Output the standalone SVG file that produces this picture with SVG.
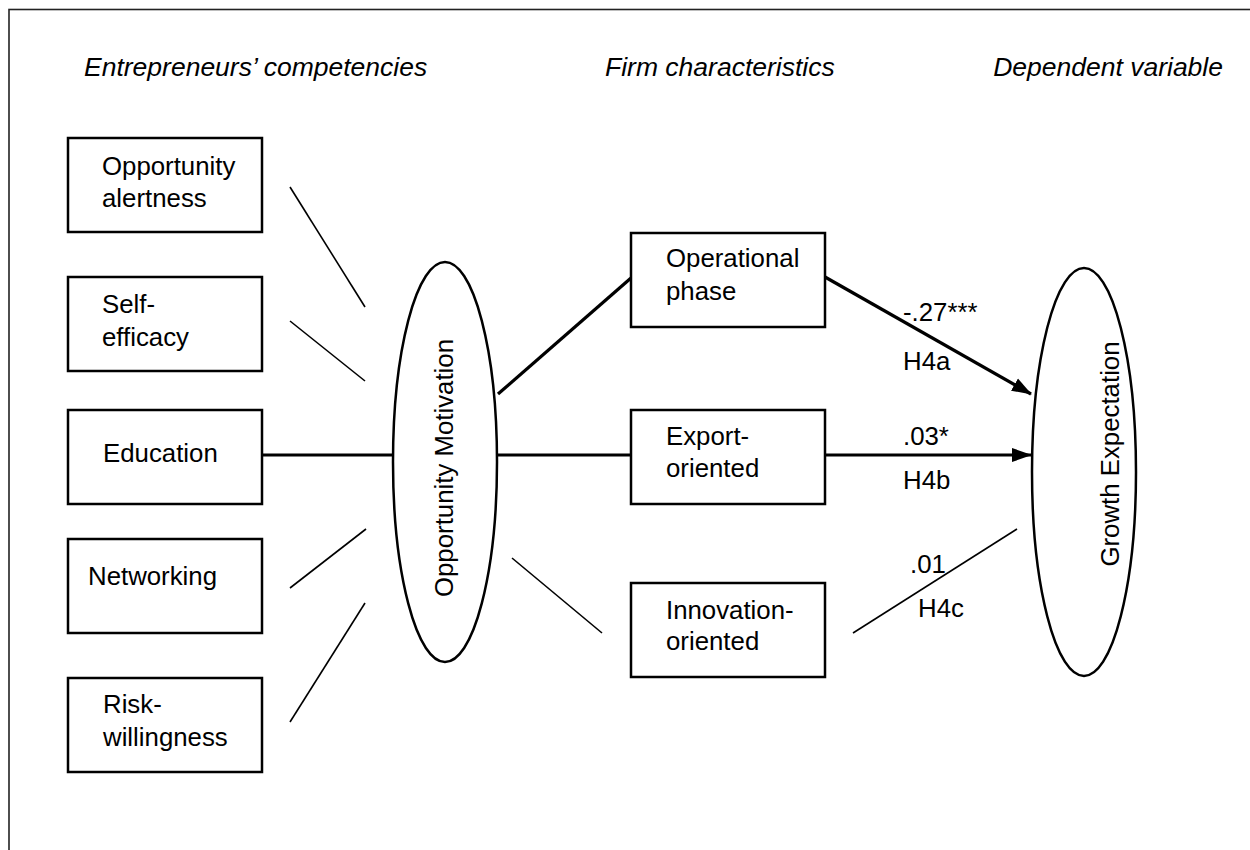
<svg xmlns="http://www.w3.org/2000/svg" width="1250" height="850" viewBox="0 0 1250 850">
<style>
text{font-family:"Liberation Sans",Arial,sans-serif;font-size:25.8px;fill:#000}
.hdr{font-style:italic;font-size:26.5px}
.box{fill:#fff;stroke:#000;stroke-width:2.5}
.ell{fill:#fff;stroke:#000;stroke-width:2.5}
.thin{stroke:#000;stroke-width:1.6;fill:none}
.thick{stroke:#000;stroke-width:3.2;fill:none}
</style>
<defs>
<marker id="arr" markerUnits="userSpaceOnUse" markerWidth="20" markerHeight="16" viewBox="0 0 20 16" refX="19" refY="8" orient="auto">
<path d="M0,1 L20,8 L0,15 Z" fill="#000"/>
</marker>
</defs>
<rect x="0" y="0" width="1250" height="850" fill="#fff"/>
<rect x="9" y="9.5" width="1300" height="900" fill="none" stroke="#222" stroke-width="1.6"/>
<g id="headers">
<text class="hdr" x="84" y="76">Entrepreneurs’ competencies</text>
<text class="hdr" x="605" y="76">Firm characteristics</text>
<text class="hdr" x="1223" y="76" text-anchor="end">Dependent variable</text>
</g>
<g id="connectors">
<line class="thin" x1="290" y1="187" x2="365" y2="307"/>
<line class="thin" x1="290" y1="321" x2="365" y2="381"/>
<line class="thick" x1="262" y1="455" x2="393" y2="455"/>
<line class="thin" x1="290" y1="588" x2="366" y2="529"/>
<line class="thin" x1="290" y1="722" x2="365" y2="603"/>
<line class="thick" x1="498" y1="394" x2="631" y2="278"/>
<line class="thick" x1="497" y1="455" x2="631" y2="455"/>
<line class="thin" x1="512" y1="558" x2="602" y2="633"/>
<line class="thick" x1="825" y1="277" x2="1031" y2="394" marker-end="url(#arr)"/>
<line class="thick" x1="825" y1="455" x2="1031" y2="455" marker-end="url(#arr)"/>
<line class="thin" x1="853" y1="633" x2="1017" y2="529"/>
<text x="903" y="321">-.27***</text>
<text x="903" y="370">H4a</text>
<text x="903" y="445">.03*</text>
<text x="903" y="489">H4b</text>
<text x="910" y="573">.01</text>
<text x="918" y="617">H4c</text>
</g>
<g id="n-alertness">
<rect class="box" x="68" y="138" width="194" height="94"/>
<text x="102" y="175">Opportunity</text>
<text x="102" y="207">alertness</text>
</g>
<g id="n-selfefficacy">
<rect class="box" x="68" y="277" width="194" height="94"/>
<text x="102" y="313">Self-</text>
<text x="102" y="346">efficacy</text>
</g>
<g id="n-education">
<rect class="box" x="68" y="410" width="194" height="94"/>
<text x="103" y="462">Education</text>
</g>
<g id="n-networking">
<rect class="box" x="68" y="539" width="194" height="94"/>
<text x="88" y="585">Networking</text>
</g>
<g id="n-risk">
<rect class="box" x="68" y="678" width="194" height="94"/>
<text x="103" y="713">Risk-</text>
<text x="103" y="746">willingness</text>
</g>
<g id="n-motivation">
<ellipse class="ell" cx="445" cy="462" rx="52" ry="200"/>
<text transform="translate(453,468) rotate(-90)" text-anchor="middle">Opportunity Motivation</text>
</g>
<g id="n-operational">
<rect class="box" x="631" y="233" width="194" height="94"/>
<text x="666" y="267">Operational</text>
<text x="666" y="300">phase</text>
</g>
<g id="n-export">
<rect class="box" x="631" y="410" width="194" height="94"/>
<text x="666" y="445">Export-</text>
<text x="666" y="477">oriented</text>
</g>
<g id="n-innovation">
<rect class="box" x="631" y="583" width="194" height="94"/>
<text x="666" y="619">Innovation-</text>
<text x="666" y="650">oriented</text>
</g>
<g id="n-growth">
<ellipse class="ell" cx="1084" cy="472" rx="52" ry="204"/>
<text transform="translate(1119,454) rotate(-90)" text-anchor="middle">Growth Expectation</text>
</g>
</svg>
